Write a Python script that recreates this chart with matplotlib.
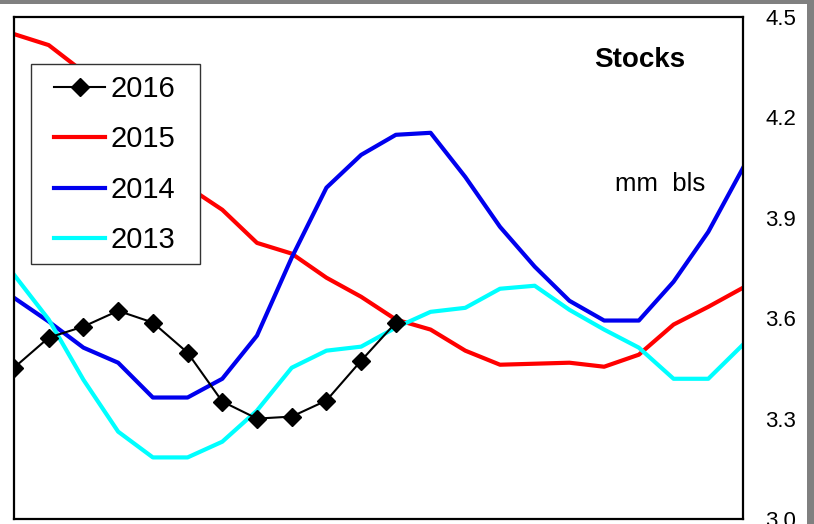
import matplotlib.pyplot as plt
from matplotlib.patches import Rectangle

plt.rcParams['font.family'] = ['Liberation Sans', 'DejaVu Sans']

# weekly stock levels, mm bls (22 points per series)
stocks_2016 = [3.452, 3.542, 3.575, 3.622, 3.587, 3.497, 3.351, 3.300,
               3.306, 3.354, 3.473, 3.587]
stocks_2015 = [4.449, 4.416, 4.336, 4.222, 4.103, 3.993, 3.924, 3.825,
               3.793, 3.721, 3.664, 3.596, 3.566, 3.503, 3.461, 3.464,
               3.467, 3.455, 3.491, 3.581, 3.634, 3.691]
stocks_2014 = [3.661, 3.590, 3.512, 3.467, 3.363, 3.363, 3.419, 3.548,
               3.781, 3.990, 4.088, 4.148, 4.154, 4.022, 3.873, 3.754,
               3.652, 3.593, 3.593, 3.709, 3.858, 4.049]
stocks_2013 = [3.730, 3.596, 3.416, 3.261, 3.184, 3.184, 3.231, 3.324,
               3.452, 3.503, 3.515, 3.572, 3.619, 3.631, 3.688, 3.697,
               3.625, 3.566, 3.512, 3.419, 3.419, 3.521]
y_ticks = [3.0, 3.3, 3.6, 3.9, 4.2, 4.5]

W, H = 814, 524
fig = plt.figure(figsize=(W / 100, H / 100), dpi=100)
fig.patch.set_facecolor('#808080')
# white chart area inside the grey frame
fig.patches.append(Rectangle((0, 0), 807 / W, (H - 4) / H, transform=fig.transFigure,
                             facecolor='white', edgecolor='none', zorder=-10))

ax = fig.add_axes([14 / W, (H - 519) / H, (743 - 14) / W, (519 - 17) / H])
ax.set_zorder(1)
ax.set_facecolor('white')

x15 = range(len(stocks_2015))
x16 = range(len(stocks_2016))
l15, = ax.plot(x15, stocks_2015, color='#ff0000', lw=3, solid_joinstyle='round')
l14, = ax.plot(x15, stocks_2014, color='#0000ee', lw=3, solid_joinstyle='round')
l13, = ax.plot(x15, stocks_2013, color='#00ffff', lw=3, solid_joinstyle='round')
l16, = ax.plot(x16, stocks_2016, color='black', lw=1.5, marker='D', markersize=9)

ax.set_xlim(0, len(stocks_2015) - 1)
ax.set_ylim(3.0, 4.5)
ax.set_xticks([])
ax.yaxis.tick_right()
ax.set_yticks(y_ticks)
ax.set_yticklabels([f"{v:.1f}" for v in y_ticks])
ax.tick_params(axis='y', length=0, pad=16, labelsize=16)
for s in ax.spines.values():
    s.set_linewidth(1.6)
    s.set_color('black')

ax.text(0.858, 0.915, "Stocks", transform=ax.transAxes, fontsize=20,
        fontweight='bold', ha='center', va='center')
ax.text(0.886, 0.6534, "mm  bls", transform=ax.transAxes, fontsize=18.5,
        ha='center', va='baseline')

# legend frame drawn separately so its padding can match the original box
legend_box = Rectangle((31 / W, 1 - 264 / H), 169 / W, 200 / H,
                       transform=fig.transFigure, facecolor='white',
                       edgecolor='#333333', lw=1.0, zorder=4, clip_on=False)
ax.add_patch(legend_box)

leg = ax.legend([l16, l15, l14, l13], ['2016', '2015', '2014', '2013'],
                loc='upper left', bbox_to_anchor=(54 / W, 1 - 75 / H),
                bbox_transform=fig.transFigure, fontsize=21, frameon=False,
                borderpad=0, labelspacing=0.77, handlelength=1.75,
                handletextpad=0.2, borderaxespad=0)
leg.set_zorder(5)

plt.savefig('out.png', dpi=100, facecolor=fig.get_facecolor())
